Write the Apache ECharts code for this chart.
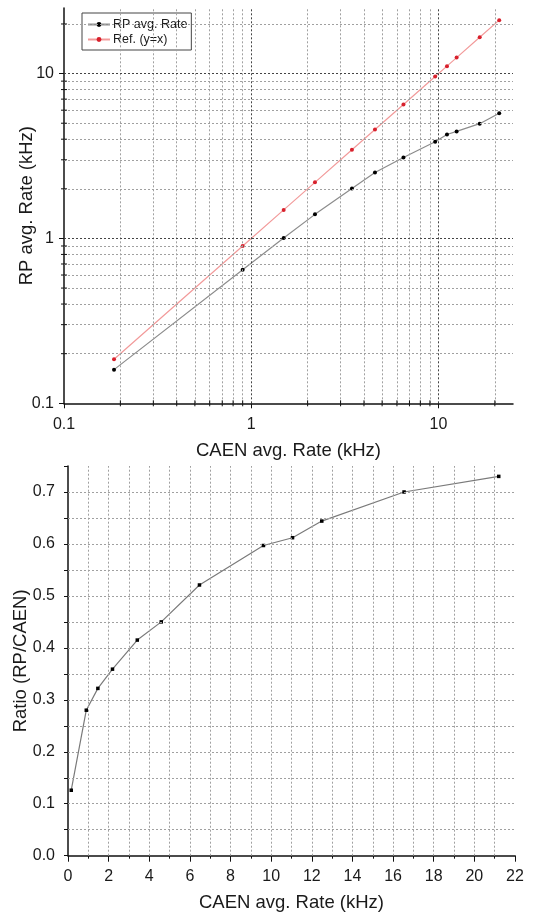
<!DOCTYPE html>
<html>
<head>
<meta charset="utf-8">
<script src="https://cdn.jsdelivr.net/npm/echarts@6/dist/echarts.min.js"></script>
<style>
  html, body { margin: 0; padding: 0; background: #fff; }
  #chart { width: 533px; height: 912px; }
</style>
</head>
<body>
<div id="chart"></div>
<script>
// Rates measured by the CAEN digitizer and the RP board (kHz)
const caenRate = [0.185, 0.90, 1.49, 2.19, 3.45, 4.58, 6.50, 9.60, 11.1, 12.5, 16.6, 21.1];
const rpRate   = [0.160, 0.645, 1.007, 1.40, 2.01, 2.51, 3.10, 3.86, 4.27, 4.46, 4.97, 5.74];
// Reference line y = x
const refRate  = caenRate.slice();

// Ratio panel
const ratioCaen = [0.16, 0.90, 1.47, 2.19, 3.41, 4.59, 6.47, 9.62, 11.05, 12.49, 16.54, 21.2];
const ratioVal  = [0.126, 0.280, 0.322, 0.359, 0.415, 0.450, 0.521, 0.597, 0.612, 0.644, 0.700, 0.730];

// Log-axis grid positions (decades 0.1 .. 20)
const logMajor = [1, 10];
const logMinor = [0.2, 0.3, 0.4, 0.5, 0.6, 0.7, 0.8, 0.9, 2, 3, 4, 5, 6, 7, 8, 9, 20];
const logLabels = [0.1, 1, 10];

// Linear grid positions for the ratio panel
const ratioXGrid = [1, 2, 3, 4, 5, 6, 7, 8, 9, 10, 11, 12, 13, 14, 15, 16, 17, 18, 19, 20, 21];
const ratioYGrid = [0.05, 0.1, 0.15, 0.2, 0.25, 0.3, 0.35, 0.4, 0.45, 0.5, 0.55, 0.6, 0.65, 0.7];

const FONT = '"Liberation Sans", Arial, Helvetica, sans-serif';
const TXT = '#1a1a1a';

const zip = (a, b) => a.map((v, i) => [v, b[i]]);

const minorGrid = { type: [2, 2], color: '#a0a0a0', width: 1 };
const majorGrid = { type: [2, 2], color: '#444', width: 1 };

const topGridLines = []
  .concat(logMinor.map(v => ({ xAxis: v, lineStyle: minorGrid })))
  .concat(logMajor.map(v => ({ xAxis: v, lineStyle: majorGrid })))
  .concat(logMinor.map(v => ({ yAxis: v, lineStyle: minorGrid })))
  .concat(logMajor.map(v => ({ yAxis: v, lineStyle: majorGrid })));

const botGridLines = []
  .concat(ratioXGrid.map(v => ({ xAxis: v, lineStyle: minorGrid })))
  .concat(ratioYGrid.map(v => ({ yAxis: v, lineStyle: minorGrid })));

// Minor tick marks on the log axes: [x, y, orientation]
const minorTickData = []
  .concat(logMinor.map(v => [v, 0.1, 0]))
  .concat(logMinor.map(v => [0.1, v, 1]));

const axisLineStyle = { lineStyle: { color: '#111', width: 1.5 } };
const axisTickStyle = { show: true, length: 5, inside: false, lineStyle: { color: '#111', width: 1 } };
const nameStyle = { fontFamily: FONT, fontSize: 18.5, color: TXT };

const option = {
  backgroundColor: '#fff',
  animation: false,
  textStyle: { fontFamily: FONT },
  legend: {
    data: ['RP avg. Rate', 'Ref. (y=x)'],
    orient: 'vertical',
    left: 82,
    top: 13,
    padding: [5, 4, 4, 5],
    itemGap: 2,
    itemWidth: 22,
    itemHeight: 6,
    borderColor: '#444',
    borderWidth: 1,
    backgroundColor: '#fff',
    textStyle: { fontFamily: FONT, fontSize: 12.5, color: TXT, padding: [0, 0, 0, -2] }
  },
  grid: [
    { left: 64, right: 20, top: 8, bottom: 508.7, containLabel: false, outerBoundsMode: 'none' },
    { left: 68, right: 18, top: 466, bottom: 56.3, containLabel: false, outerBoundsMode: 'none' }
  ],
  xAxis: [
    {
      gridIndex: 0, type: 'log', logBase: 10, min: 0.1, max: 25,
      name: 'CAEN avg. Rate (kHz)', nameLocation: 'middle', nameGap: 38, nameMoveOverlap: false,
      nameTextStyle: nameStyle,
      axisLine: axisLineStyle, axisTick: axisTickStyle,
      axisLabel: {
        fontFamily: FONT, fontSize: 16, color: TXT, margin: 13,
        showMaxLabel: false,
        formatter: v => (logLabels.some(t => Math.abs(t - v) < 1e-9) ? String(v) : '')
      },
      splitLine: { show: false }
    },
    {
      gridIndex: 1, type: 'value', min: 0, max: 22, interval: 2,
      name: 'CAEN avg. Rate (kHz)', nameLocation: 'middle', nameGap: 38, nameMoveOverlap: false,
      nameTextStyle: nameStyle,
      axisLine: axisLineStyle,
      axisTick: { show: true, length: 6, lineStyle: { color: '#111', width: 1 } },
      minorTick: { show: true, splitNumber: 2, length: 3, lineStyle: { color: '#111', width: 1 } },
      axisLabel: { fontFamily: FONT, fontSize: 16, color: TXT, margin: 13 },
      splitLine: { show: false }
    }
  ],
  yAxis: [
    {
      gridIndex: 0, type: 'log', logBase: 10, min: 0.1, max: 25,
      name: 'RP avg. Rate (kHz)', nameLocation: 'middle', nameGap: 28, nameMoveOverlap: false,
      nameTextStyle: nameStyle,
      axisLine: axisLineStyle, axisTick: axisTickStyle,
      axisLabel: {
        fontFamily: FONT, fontSize: 16, color: TXT, margin: 10,
        showMaxLabel: false,
        formatter: v => (logLabels.some(t => Math.abs(t - v) < 1e-9) ? String(v) : '')
      },
      splitLine: { show: false }
    },
    {
      gridIndex: 1, type: 'value', min: 0, max: 0.75, interval: 0.05,
      name: 'Ratio (RP/CAEN)', nameLocation: 'middle', nameGap: 38, nameMoveOverlap: false,
      nameTextStyle: nameStyle,
      axisLine: axisLineStyle,
      axisTick: { show: true, length: 4, lineStyle: { color: '#111', width: 1 } },
      axisLabel: {
        fontFamily: FONT, fontSize: 16, color: TXT, margin: 13,
        formatter: v => (Math.round(v * 100) % 10 === 0 ? v.toFixed(1) : '')
      },
      splitLine: { show: false }
    }
  ],
  series: [
    {
      name: 'grid-top', type: 'line', xAxisIndex: 0, yAxisIndex: 0, data: [], z: 1,
      markLine: { silent: true, symbol: ['none', 'none'], label: { show: false }, animation: false, data: topGridLines }
    },
    {
      name: 'grid-bottom', type: 'line', xAxisIndex: 1, yAxisIndex: 1, data: [], z: 1,
      markLine: { silent: true, symbol: ['none', 'none'], label: { show: false }, animation: false, data: botGridLines }
    },
    {
      name: 'minor-ticks', type: 'custom', xAxisIndex: 0, yAxisIndex: 0, z: 5, silent: true, clip: false,
      data: minorTickData,
      renderItem: (params, api) => {
        const p = api.coord([api.value(0), api.value(1)]);
        const vertical = api.value(2) === 0;
        return {
          type: 'line',
          shape: vertical
            ? { x1: p[0], y1: p[1] - 3, x2: p[0], y2: p[1] + 3 }
            : { x1: p[0] - 3, y1: p[1], x2: p[0] + 3, y2: p[1] },
          style: { stroke: '#111', lineWidth: 1 }
        };
      }
    },
    {
      name: 'RP avg. Rate', type: 'line', xAxisIndex: 0, yAxisIndex: 0, z: 3,
      data: zip(caenRate, rpRate),
      symbol: 'circle', symbolSize: 4, showAllSymbol: true,
      lineStyle: { color: '#8c8c8c', width: 1.2 },
      itemStyle: { color: '#000' }
    },
    {
      name: 'Ref. (y=x)', type: 'line', xAxisIndex: 0, yAxisIndex: 0, z: 3,
      data: zip(caenRate, refRate),
      symbol: 'circle', symbolSize: 4, showAllSymbol: true,
      lineStyle: { color: '#f29a9a', width: 1.2 },
      itemStyle: { color: '#d8202c' }
    },
    {
      name: 'Ratio', type: 'line', xAxisIndex: 1, yAxisIndex: 1, z: 3,
      data: zip(ratioCaen, ratioVal),
      symbol: 'rect', symbolSize: 3.5, showAllSymbol: true,
      lineStyle: { color: '#7a7a7a', width: 1.2 },
      itemStyle: { color: '#000' }
    }
  ]
};

const chart = echarts.init(document.getElementById('chart'), null, { renderer: 'canvas' });
chart.setOption(option);
</script>
</body>
</html>
